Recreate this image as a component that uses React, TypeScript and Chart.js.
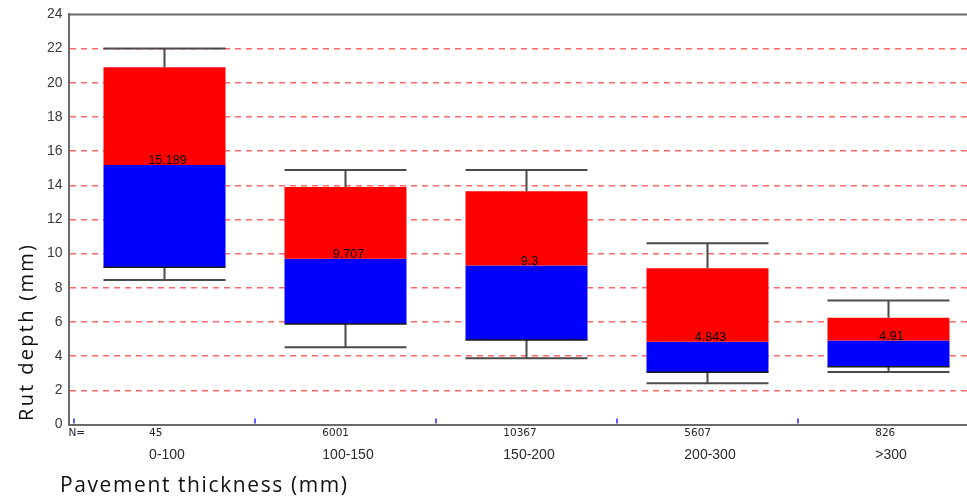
import React, { useEffect, useRef } from "react";
import { Chart, registerables } from "chart.js";

Chart.register(...registerables);

const categories = ["0-100", "100-150", "150-200", "200-300", ">300"];
const counts = ["45", "6001", "10367", "5607", "826"];
const whiskerHigh = [22.0, 14.9, 14.9, 10.6, 7.25];
const q3 = [20.9, 13.9, 13.65, 9.15, 6.24];
const medians = [15.189, 9.707, 9.3, 4.843, 4.91];
const q1 = [9.2, 5.88, 4.95, 3.06, 3.38];
const whiskerLow = [8.45, 4.52, 3.87, 2.41, 3.07];
const yMin = 0;
const yMax = 24;
const yStep = 2;
const xTitle = "Pavement thickness (mm)";
const yTitle = "Rut depth (mm)";

const AXIS_COLOR = "#6a6a6a";

const decorPlugin = {
  id: "decor",
  afterDatasetsDraw(chart: any) {
    const ctx = chart.ctx;
    const xs = chart.scales.x;
    const ys = chart.scales.y;
    const meta = chart.getDatasetMeta(0);
    ctx.save();
    for (let i = 0; i < categories.length; i++) {
      const cx = xs.getPixelForValue(i);
      const w = meta.data[i].width;
      const yHi = ys.getPixelForValue(whiskerHigh[i]);
      const yQ3 = ys.getPixelForValue(q3[i]);
      const yQ1 = ys.getPixelForValue(q1[i]);
      const yLo = ys.getPixelForValue(whiskerLow[i]);
      ctx.strokeStyle = "#4a4a4a";
      ctx.lineWidth = 2;
      ctx.beginPath();
      ctx.moveTo(cx, yQ3);
      ctx.lineTo(cx, yHi);
      ctx.moveTo(cx - w / 2, yHi);
      ctx.lineTo(cx + w / 2, yHi);
      ctx.moveTo(cx, yQ1);
      ctx.lineTo(cx, yLo);
      ctx.moveTo(cx - w / 2, yLo);
      ctx.lineTo(cx + w / 2, yLo);
      ctx.stroke();
      ctx.strokeStyle = "#1a1a1a";
      ctx.lineWidth = 1.5;
      ctx.beginPath();
      ctx.moveTo(cx - w / 2, yQ1);
      ctx.lineTo(cx + w / 2, yQ1);
      ctx.stroke();
      ctx.fillStyle = "#000";
      ctx.font = "12.5px 'Liberation Sans', Arial, sans-serif";
      ctx.textAlign = "center";
      ctx.textBaseline = "alphabetic";
      ctx.fillText(String(medians[i]), cx + 3, ys.getPixelForValue(medians[i]) - 1);
    }
    ctx.restore();
  },
  afterDraw(chart: any) {
    const ctx = chart.ctx;
    const xs = chart.scales.x;
    const area = chart.chartArea;
    ctx.save();
    ctx.strokeStyle = AXIS_COLOR;
    ctx.lineWidth = 2;
    ctx.beginPath();
    ctx.moveTo(area.left, area.top);
    ctx.lineTo(area.right, area.top);
    ctx.stroke();
    ctx.strokeStyle = "#2a2aff";
    ctx.lineWidth = 1.5;
    ctx.beginPath();
    for (let i = 0; i < categories.length; i++) {
      const bx = xs.getPixelForValue(i - 0.5);
      if (bx < area.left || bx > area.right) continue;
      ctx.moveTo(bx, area.bottom - 6);
      ctx.lineTo(bx, area.bottom - 1);
    }
    ctx.stroke();
    ctx.textBaseline = "alphabetic";
    ctx.textAlign = "left";
    ctx.font = "10.5px 'DejaVu Sans', Verdana, sans-serif";
    ctx.fillStyle = "#22223a";
    ctx.fillText("N=", area.left, area.bottom + 11.5);
    for (let i = 0; i < categories.length; i++) {
      const cx = xs.getPixelForValue(i) + 2.5;
      ctx.font = "14px 'Liberation Sans', Arial, sans-serif";
      const lw = ctx.measureText(categories[i]).width;
      const left = cx - lw / 2;
      ctx.fillStyle = "#2a2a2a";
      ctx.fillText(categories[i], left, area.bottom + 34);
      ctx.font = "10.5px 'DejaVu Sans', Verdana, sans-serif";
      ctx.fillStyle = "#2a2520";
      ctx.fillText(counts[i], left, area.bottom + 11.5);
    }
    ctx.fillStyle = "#111";
    ctx.font = "21px 'Open Sans', sans-serif";
    const xw = ctx.measureText(xTitle).width;
    try {
      (ctx as any).letterSpacing = ((287 - xw) / (xTitle.length - 1)).toFixed(2) + "px";
    } catch (e) {}
    ctx.fillText(xTitle, 60, 492);
    try {
      (ctx as any).letterSpacing = "0px";
    } catch (e) {}
    ctx.font = "20px 'Open Sans', sans-serif";
    const yw = ctx.measureText(yTitle).width;
    try {
      (ctx as any).letterSpacing = ((176 - yw) / (yTitle.length - 1)).toFixed(2) + "px";
    } catch (e) {}
    ctx.translate(33, 421);
    ctx.rotate(-Math.PI / 2);
    ctx.fillText(yTitle, 0, 0);
    ctx.restore();
  },
};

export default function App() {
  const ref = useRef<HTMLCanvasElement | null>(null);
  useEffect(() => {
    if (!ref.current) return;
    const chart = new Chart(ref.current, {
      type: "bar",
      data: {
        datasets: [
          {
            label: "upper",
            data: categories.map((_, i) => ({ x: i, y: [medians[i], q3[i]] })) as any,
            backgroundColor: "#ff0000",
            borderWidth: 0,
            grouped: false,
            categoryPercentage: 1,
            barPercentage: 0.674,
          } as any,
          {
            label: "lower",
            data: categories.map((_, i) => ({ x: i, y: [q1[i], medians[i]] })) as any,
            backgroundColor: "#0000ff",
            borderWidth: 0,
            grouped: false,
            categoryPercentage: 1,
            barPercentage: 0.674,
          } as any,
        ],
      },
      options: {
        animation: false,
        responsive: false,
        maintainAspectRatio: false,
        layout: { padding: { top: 13.5, left: 0, right: 0, bottom: 0 } },
        plugins: { legend: { display: false }, tooltip: { enabled: false } },
        scales: {
          x: {
            type: "linear",
            offset: false,
            min: -0.5304,
            max: 4.4337,
            afterBuildTicks: (s: any) => {
              s.ticks = categories.map((_, i) => ({ value: i }));
            },
            ticks: { display: false },
            grid: { display: false },
            border: { display: true, color: AXIS_COLOR, width: 2 },
            afterFit: (s: any) => {
              s.height = 74.5;
            },
          },
          y: {
            type: "linear",
            min: yMin,
            max: yMax,
            ticks: {
              stepSize: yStep,
              color: "#3a3a3a",
              padding: 6,
              font: { family: "'Liberation Sans', Arial, sans-serif", size: 14 },
            },
            grid: {
              drawTicks: false,
              lineWidth: 1.5,
              color: (c: any) =>
                c.tick && (c.tick.value === yMin || c.tick.value === yMax)
                  ? "rgba(0,0,0,0)"
                  : "rgba(255,40,40,0.7)",
            },
            border: { display: true, color: AXIS_COLOR, width: 2, dash: [6, 5] },
            afterFit: (s: any) => {
              s.width = 68.5;
            },
          },
        },
      },
      plugins: [decorPlugin],
    } as any);
    return () => chart.destroy();
  }, []);
  return (
    <div style={{ position: "fixed", left: 0, top: 0, width: 967, height: 499, background: "#fff" }}>
      <canvas ref={ref} width={967} height={499} style={{ display: "block" }} />
    </div>
  );
}
